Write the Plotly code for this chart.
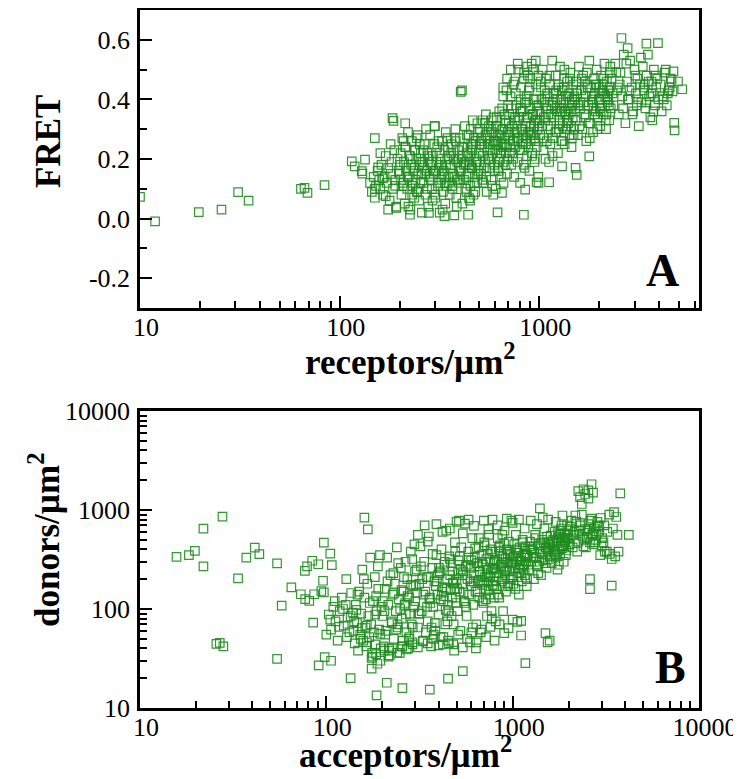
import plotly.graph_objects as go

# ---------------- Panel A: FRET vs receptors/um^2 ----------------
a_out_x = [10, 11.9, 19.7, 25.6, 31, 35, 66.7, 69, 84, 115,
           119, 134, 129, 130, 150, 156, 184, 186, 213, 300,
           410, 404, 618, 837, 2580, 2770, 3440, 3930, 4700, 5200,
           4740, 4760, 1780, 1540, 1520, 1300, 1120, 970, 850, 650,
           440, 375, 335, 280, 225, 192, 445, 4650, 4950, 64]
a_out_y = [0.073, -0.009, 0.022, 0.03, 0.089, 0.06, 0.103, 0.086, 0.112, 0.192,
           0.175, 0.198, 0.159, 0.151, 0.27, 0.172, 0.337, 0.328, 0.32, 0.31,
           0.43, 0.425, 0.021, 0.013, 0.606, 0.572, 0.587, 0.589, 0.494, 0.434,
           0.321, 0.296, 0.209, 0.147, 0.17, 0.175, 0.122, 0.122, 0.097, 0.086,
           0.013, 0.011, 0.008, 0.019, 0.013, 0.036, 0.069, 0.427, 0.46, 0.1]

a1_x = [142, 145, 148, 150, 152, 155, 158, 160, 162, 165,
        168, 170, 172, 175, 178, 180, 182, 185, 188, 190,
        192, 195, 198, 150, 160, 170, 180, 190, 175, 165]
a1_y = [0.12, 0.09, 0.14, 0.07, 0.11, 0.16, 0.13, 0.10, 0.18, 0.08,
        0.14, 0.21, 0.12, 0.17, 0.06, 0.15, 0.19, 0.10, 0.23, 0.13,
        0.04, 0.20, 0.16, 0.10, 0.22, 0.075, 0.25, 0.11, 0.03, 0.135]

a2_x = [200, 202, 204, 206, 208, 210, 212, 214, 216, 218,
        220, 222, 224, 226, 228, 230, 232, 234, 236, 238,
        240, 242, 244, 246, 248, 250, 252, 254, 256, 258,
        201, 207, 213, 219, 225, 231, 237, 243, 249, 255,
        203, 209, 215, 221, 227, 233, 239, 245, 251, 257]
a2_y = [0.15, 0.22, 0.08, 0.27, 0.12, 0.19, 0.05, 0.24, 0.17, 0.10,
        0.29, 0.14, 0.21, 0.03, 0.18, 0.26, 0.11, 0.16, 0.07, 0.23,
        0.13, 0.20, 0.09, 0.28, 0.15, 0.06, 0.25, 0.12, 0.19, 0.02,
        0.18, 0.11, 0.24, 0.14, 0.21, 0.08, 0.17, 0.27, 0.10, 0.22,
        0.13, 0.26, 0.16, 0.04, 0.20, 0.12, 0.23, 0.09, 0.18, 0.15]

a3_x = [260, 263, 266, 269, 272, 275, 278, 281, 284, 287,
        290, 293, 296, 299, 302, 305, 308, 311, 314, 317,
        320, 323, 326, 329, 332, 335, 338, 341, 344, 347,
        350, 353, 356, 359, 262, 268, 274, 280, 286, 292,
        298, 304, 310, 316, 322, 328, 334, 340, 346, 352,
        265, 277, 289, 301, 313, 325, 337, 349, 271, 295]
a3_y = [0.19, 0.12, 0.25, 0.08, 0.16, 0.22, 0.04, 0.14, 0.28, 0.18,
        0.10, 0.21, 0.15, 0.31, 0.07, 0.19, 0.24, 0.12, 0.17, 0.02,
        0.20, 0.13, 0.26, 0.09, 0.16, 0.23, 0.05, 0.18, 0.11, 0.27,
        0.14, 0.21, 0.08, 0.17, 0.23, 0.15, 0.10, 0.20, 0.13, 0.06,
        0.25, 0.16, 0.11, 0.22, 0.18, 0.03, 0.14, 0.29, 0.20, 0.12,
        0.17, 0.21, 0.19, 0.08, 0.26, 0.15, 0.12, 0.24, 0.30, 0.16]

a4_x = [360, 364, 368, 372, 376, 380, 384, 388, 392, 396,
        400, 404, 408, 412, 416, 420, 424, 428, 432, 436,
        440, 444, 448, 452, 456, 460, 464, 468, 472, 476,
        480, 484, 488, 492, 496, 362, 370, 378, 386, 394,
        402, 410, 418, 426, 434, 442, 450, 458, 466, 474,
        482, 490, 498, 366, 382, 398, 414, 430, 446, 462,
        478, 494, 374, 406, 438, 470, 390, 422, 454, 486]
a4_y = [0.18, 0.25, 0.10, 0.21, 0.14, 0.30, 0.07, 0.19, 0.23, 0.12,
        0.27, 0.16, 0.20, 0.05, 0.24, 0.13, 0.31, 0.18, 0.09, 0.22,
        0.15, 0.28, 0.19, 0.11, 0.25, 0.17, 0.33, 0.08, 0.21, 0.14,
        0.26, 0.19, 0.12, 0.29, 0.16, 0.22, 0.15, 0.27, 0.04, 0.20,
        0.13, 0.24, 0.18, 0.10, 0.28, 0.21, 0.06, 0.17, 0.25, 0.12,
        0.19, 0.32, 0.22, 0.11, 0.26, 0.16, 0.21, 0.14, 0.18, 0.23,
        0.09, 0.15, 0.20, 0.17, 0.24, 0.27, 0.13, 0.19, 0.30, 0.20]

a5_x = [500, 505, 510, 515, 520, 525, 530, 535, 540, 545,
        550, 555, 560, 565, 570, 575, 580, 585, 590, 595,
        600, 605, 610, 615, 620, 625, 630, 635, 640, 645,
        650, 655, 660, 665, 670, 675, 680, 685, 690, 695,
        502, 512, 522, 532, 542, 552, 562, 572, 582, 592,
        602, 612, 622, 632, 642, 652, 662, 672, 682, 692,
        508, 528, 548, 568, 588, 608, 628, 648, 668, 688,
        518, 538, 558, 578, 598, 618, 638, 658, 678, 698]
a5_y = [0.22, 0.30, 0.15, 0.26, 0.33, 0.12, 0.24, 0.19, 0.35, 0.09,
        0.27, 0.21, 0.31, 0.17, 0.25, 0.13, 0.29, 0.22, 0.34, 0.18,
        0.26, 0.10, 0.31, 0.23, 0.28, 0.16, 0.36, 0.20, 0.25, 0.14,
        0.30, 0.24, 0.41, 0.19, 0.27, 0.33, 0.22, 0.43, 0.15, 0.29,
        0.18, 0.27, 0.21, 0.32, 0.14, 0.25, 0.20, 0.30, 0.11, 0.26,
        0.23, 0.34, 0.17, 0.28, 0.22, 0.37, 0.12, 0.25, 0.32, 0.20,
        0.25, 0.17, 0.29, 0.23, 0.08, 0.31, 0.19, 0.27, 0.35, 0.24,
        0.13, 0.28, 0.20, 0.33, 0.16, 0.26, 0.22, 0.30, 0.18, 0.38]

a6_x = [700, 706, 712, 718, 724, 730, 736, 742, 748, 754,
        760, 766, 772, 778, 784, 790, 796, 802, 808, 814,
        820, 826, 832, 838, 844, 850, 856, 862, 868, 874,
        880, 886, 892, 898, 904, 910, 916, 922, 928, 934,
        940, 946, 952, 958, 964, 970, 976, 982, 988, 994,
        703, 715, 727, 739, 751, 763, 775, 787, 799, 811,
        823, 835, 847, 859, 871, 883, 895, 907, 919, 931,
        943, 955, 967, 979, 991, 709, 733, 757, 781, 805,
        829, 853, 877, 901, 925, 949, 973, 997, 745, 865]
a6_y = [0.28, 0.35, 0.22, 0.41, 0.18, 0.31, 0.26, 0.45, 0.14, 0.33,
        0.24, 0.38, 0.29, 0.19, 0.50, 0.27, 0.34, 0.12, 0.40, 0.30,
        0.23, 0.36, 0.28, 0.47, 0.17, 0.32, 0.25, 0.39, 0.21, 0.34,
        0.29, 0.43, 0.16, 0.37, 0.26, 0.31, 0.52, 0.22, 0.35, 0.28,
        0.40, 0.19, 0.33, 0.27, 0.45, 0.24, 0.36, 0.30, 0.14, 0.38,
        0.32, 0.25, 0.37, 0.20, 0.29, 0.42, 0.26, 0.33, 0.23, 0.36,
        0.30, 0.18, 0.39, 0.27, 0.34, 0.24, 0.44, 0.29, 0.21, 0.35,
        0.31, 0.26, 0.40, 0.33, 0.12, 0.30, 0.22, 0.34, 0.27, 0.37,
        0.25, 0.31, 0.48, 0.28, 0.35, 0.20, 0.38, 0.32, 0.26, 0.41]

a7_x = [1000, 1010, 1020, 1030, 1040, 1050, 1060, 1070, 1080, 1090,
        1100, 1110, 1120, 1130, 1140, 1150, 1160, 1170, 1180, 1190,
        1200, 1210, 1220, 1230, 1240, 1250, 1260, 1270, 1280, 1290,
        1300, 1310, 1320, 1330, 1340, 1350, 1360, 1370, 1380, 1390,
        1400, 1410, 1420, 1430, 1440, 1450, 1460, 1470, 1480, 1490,
        1005, 1025, 1045, 1065, 1085, 1105, 1125, 1145, 1165, 1185,
        1205, 1225, 1245, 1265, 1285, 1305, 1325, 1345, 1365, 1385,
        1405, 1425, 1445, 1465, 1485, 1015, 1055, 1095, 1135, 1175,
        1215, 1255, 1295, 1335, 1375, 1415, 1455, 1495, 1075, 1235]
a7_y = [0.36, 0.28, 0.44, 0.31, 0.50, 0.23, 0.39, 0.33, 0.47, 0.26,
        0.41, 0.35, 0.19, 0.45, 0.30, 0.38, 0.53, 0.27, 0.42, 0.34,
        0.37, 0.48, 0.29, 0.40, 0.22, 0.44, 0.33, 0.51, 0.36, 0.26,
        0.43, 0.31, 0.39, 0.47, 0.25, 0.35, 0.41, 0.30, 0.46, 0.37,
        0.32, 0.42, 0.28, 0.49, 0.36, 0.24, 0.40, 0.34, 0.45, 0.30,
        0.33, 0.40, 0.27, 0.43, 0.37, 0.31, 0.48, 0.35, 0.21, 0.42,
        0.29, 0.38, 0.45, 0.32, 0.40, 0.26, 0.44, 0.36, 0.30, 0.41,
        0.35, 0.47, 0.31, 0.38, 0.28, 0.46, 0.34, 0.42, 0.25, 0.39,
        0.43, 0.30, 0.37, 0.50, 0.33, 0.39, 0.27, 0.41, 0.20, 0.36]

a8_x = [1500, 1520, 1540, 1560, 1580, 1600, 1620, 1640, 1660, 1680,
        1700, 1720, 1740, 1760, 1780, 1800, 1820, 1840, 1860, 1880,
        1900, 1920, 1940, 1960, 1980, 2000, 2020, 2040, 2060, 2080,
        2100, 2120, 2140, 2160, 2180, 2200, 2220, 2240, 2260, 2280,
        1510, 1550, 1590, 1630, 1670, 1710, 1750, 1790, 1830, 1870,
        1910, 1950, 1990, 2030, 2070, 2110, 2150, 2190, 2230, 2270,
        1530, 1610, 1690, 1770, 1850, 1930, 2010, 2090, 2170, 2250,
        1570, 1730, 1890, 2050, 2210]
a8_y = [0.40, 0.33, 0.46, 0.28, 0.51, 0.37, 0.43, 0.30, 0.48, 0.35,
        0.41, 0.26, 0.45, 0.38, 0.53, 0.32, 0.44, 0.39, 0.29, 0.47,
        0.42, 0.36, 0.50, 0.34, 0.44, 0.40, 0.31, 0.48, 0.38, 0.45,
        0.35, 0.52, 0.41, 0.30, 0.46, 0.39, 0.43, 0.33, 0.49, 0.37,
        0.36, 0.42, 0.31, 0.47, 0.39, 0.34, 0.44, 0.27, 0.41, 0.37,
        0.45, 0.30, 0.40, 0.36, 0.43, 0.47, 0.33, 0.41, 0.38, 0.51,
        0.43, 0.39, 0.46, 0.32, 0.40, 0.45, 0.37, 0.42, 0.35, 0.44,
        0.38, 0.49, 0.35, 0.42, 0.40]

a9_x = [2300, 2350, 2400, 2450, 2500, 2550, 2600, 2650, 2700, 2750,
        2800, 2850, 2900, 2950, 3000, 3050, 3100, 3150, 3200, 3250,
        3300, 3350, 3400, 3450, 3500, 3550, 3600, 3650, 3700, 3750,
        3800, 3850, 3900, 3950, 2330, 2430, 2530, 2630, 2730, 2830,
        2930, 3030, 3130, 3230, 3330, 3430, 3530, 3630, 3730, 3830,
        2480, 2780, 3080, 3380, 3680]
a9_y = [0.47, 0.38, 0.52, 0.43, 0.35, 0.49, 0.41, 0.55, 0.32, 0.46,
        0.40, 0.53, 0.44, 0.36, 0.50, 0.42, 0.47, 0.31, 0.45, 0.39,
        0.51, 0.43, 0.37, 0.48, 0.55, 0.41, 0.34, 0.46, 0.42, 0.50,
        0.38, 0.44, 0.47, 0.40, 0.42, 0.49, 0.45, 0.37, 0.52, 0.43,
        0.35, 0.48, 0.40, 0.54, 0.44, 0.39, 0.46, 0.42, 0.36, 0.48,
        0.44, 0.40, 0.38, 0.45, 0.33]

a10_x = [4050, 4150, 4250, 4350, 4450, 4550, 4100, 4300, 4500, 4200, 4400, 4600]
a10_y = [0.45, 0.41, 0.49, 0.38, 0.43, 0.47, 0.36, 0.50, 0.44, 0.40, 0.42, 0.46]

a11_x = [660, 690, 720, 750, 780, 810, 840, 870, 900, 930, 960, 990]
a11_y = [0.44, 0.47, 0.50, 0.46, 0.52, 0.44, 0.49, 0.51, 0.47, 0.50, 0.53, 0.48]

# ---------------- Panel B: donors vs acceptors ----------------
b_out_x = [15.7, 18.3, 19.7, 21.9, 21.9, 27.7, 33.6, 37.2, 41.3, 43.7,
           54.4, 57.6, 64.9, 54.4, 25.7, 26.8, 28, 76.7, 78.8, 84,
           90.5, 73, 77, 81, 86, 94, 97, 96, 97, 105,
           107, 85, 91, 98, 106, 128, 135, 160, 167, 186,
           256, 359, 450, 540, 1170, 1400, 3780, 4200, 2250, 2400,
           2550, 2650, 2600, 2600, 3400, 1500, 1540, 1580, 1110, 1110]
b_out_y = [336, 350, 386, 649, 269, 857, 204, 331, 417, 358,
           289, 108, 165, 31.4, 44.5, 45.5, 42, 243, 269, 307,
           283, 141, 126, 121, 141, 152, 147, 193, 469, 363,
           277, 73, 27, 32.6, 30, 200, 20, 837, 638, 13.4,
           15.9, 15.3, 19.8, 23.6, 28.4, 1040, 1470, 560, 1550, 1620,
           1580, 1820, 200, 159, 172, 57, 46, 48, 54, 76]

b1_x = [100, 103, 106, 109, 112, 115, 118, 121, 124, 127,
        130, 133, 136, 139, 105, 111, 117, 123, 129, 135]
b1_y = [55, 88, 62, 105, 75, 48, 95, 130, 68, 110,
        82, 58, 145, 92, 78, 120, 66, 100, 52, 85]

b2_x = [140, 142, 144, 146, 148, 150, 152, 154, 156, 158,
        160, 162, 164, 166, 168, 170, 172, 174, 176, 178,
        180, 182, 184, 186, 188, 190, 192, 194, 196, 198,
        141, 147, 153, 159, 165, 171, 177, 183, 189, 195,
        145, 155, 165, 175, 185]
b2_y = [60, 45, 110, 72, 38, 150, 55, 90, 250, 48,
        130, 65, 42, 180, 85, 52, 330, 70, 36, 120,
        58, 210, 44, 95, 28, 160, 62, 350, 40, 105,
        75, 140, 50, 200, 68, 115, 33, 88, 270, 56,
        98, 64, 46, 25, 135]

b3_x = [200, 203, 206, 209, 212, 215, 218, 221, 224, 227,
        230, 233, 236, 239, 242, 245, 248, 251, 254, 257,
        260, 263, 266, 269, 272, 275, 278, 281, 284, 287,
        290, 293, 296, 299, 201, 207, 213, 219, 225, 231,
        237, 243, 249, 255, 261, 267, 273, 279, 285, 291,
        297, 205, 217, 229, 241, 253, 265, 277, 289, 211]
b3_y = [85, 42, 160, 60, 330, 110, 38, 220, 72, 140,
        50, 180, 95, 420, 65, 125, 36, 260, 80, 48,
        150, 110, 300, 58, 200, 40, 130, 90, 380, 70,
        46, 170, 105, 240, 120, 55, 190, 34, 75, 145,
        62, 290, 100, 42, 210, 88, 135, 52, 175, 66,
        450, 95, 40, 230, 70, 155, 115, 50, 320, 18]

b4_x = [300, 305, 310, 315, 320, 325, 330, 335, 340, 345,
        350, 355, 360, 365, 370, 375, 380, 385, 390, 395,
        400, 405, 410, 415, 420, 425, 430, 435, 440, 445,
        450, 455, 460, 465, 470, 475, 480, 485, 490, 495,
        302, 312, 322, 332, 342, 352, 362, 372, 382, 392,
        402, 412, 422, 432, 442, 452, 462, 472, 482, 492,
        307, 327, 347, 367, 387, 407, 427, 447, 467, 487,
        317, 337, 357, 377, 397, 417, 437, 457, 477, 497]
b4_y = [120, 250, 65, 180, 430, 95, 48, 300, 150, 210,
        75, 540, 130, 42, 260, 105, 190, 60, 350, 140,
        88, 230, 52, 400, 165, 120, 280, 70, 620, 200,
        110, 45, 320, 155, 85, 240, 180, 38, 470, 130,
        175, 90, 270, 140, 58, 210, 115, 360, 72, 190,
        260, 125, 44, 300, 160, 95, 220, 130, 70, 380,
        145, 200, 105, 65, 170, 240, 135, 75, 290, 160,
        90, 700, 125, 55, 220, 150, 98, 340, 185, 115]

b5_x = [500, 506, 512, 518, 524, 530, 536, 542, 548, 554,
        560, 566, 572, 578, 584, 590, 596, 602, 608, 614,
        620, 626, 632, 638, 644, 650, 656, 662, 668, 674,
        680, 686, 692, 698, 704, 710, 716, 722, 728, 734,
        740, 746, 752, 758, 764, 770, 776, 782, 788, 794,
        503, 521, 539, 557, 575, 593, 611, 629, 647, 665,
        683, 701, 719, 737, 755, 773, 791, 509, 545, 581,
        617, 653, 689, 725, 761, 797, 527, 563, 599, 635,
        671, 707, 743, 779, 515]
b5_y = [200, 95, 310, 150, 60, 420, 180, 240, 120, 730,
        270, 85, 200, 380, 140, 46, 260, 170, 520, 110,
        220, 330, 150, 70, 290, 190, 420, 130, 240, 58,
        350, 175, 280, 115, 470, 210, 160, 320, 85, 250,
        190, 560, 140, 300, 230, 95, 380, 175, 260, 130,
        160, 340, 220, 115, 280, 190, 65, 410, 150, 240,
        300, 185, 125, 360, 210, 80, 290, 230, 145, 330,
        190, 270, 120, 220, 400, 170, 250, 105, 310, 40,
        195, 440, 155, 260, 780]

b6_x = [800, 808, 816, 824, 832, 840, 848, 856, 864, 872,
        880, 888, 896, 904, 912, 920, 928, 936, 944, 952,
        960, 968, 976, 984, 992, 1000, 1010, 1020, 1030, 1040,
        1050, 1060, 1070, 1080, 1090, 1100, 1110, 1120, 1130, 1140,
        1150, 1160, 1170, 1180, 1190, 804, 820, 836, 852, 868,
        884, 900, 916, 932, 948, 964, 980, 996, 1015, 1035,
        1055, 1075, 1095, 1115, 1135, 1155, 1175, 1195, 812, 844,
        876, 908, 940, 972, 1005, 1045, 1085, 1125, 1165, 812]
b6_y = [250, 380, 160, 300, 520, 210, 130, 440, 280, 190,
        340, 95, 260, 620, 220, 150, 400, 300, 170, 480,
        240, 350, 200, 780, 280, 330, 180, 450, 260, 560,
        300, 210, 370, 140, 420, 280, 330, 190, 500, 250,
        360, 220, 430, 300, 170, 310, 230, 140, 390, 270,
        200, 460, 320, 250, 180, 380, 290, 210, 340, 160,
        400, 260, 310, 230, 470, 280, 350, 200, 190, 420,
        290, 240, 360, 170, 300, 390, 230, 280, 330, 75]

b7_x = [1200, 1220, 1240, 1260, 1280, 1300, 1320, 1340, 1360, 1380,
        1400, 1420, 1440, 1460, 1480, 1500, 1520, 1540, 1560, 1580,
        1600, 1620, 1640, 1660, 1680, 1700, 1720, 1740, 1760, 1780,
        1800, 1820, 1840, 1860, 1880, 1900, 1920, 1940, 1960, 1980,
        1210, 1250, 1290, 1330, 1370, 1410, 1450, 1490, 1530, 1570,
        1610, 1650, 1690, 1730, 1770, 1810, 1850, 1890, 1930, 1970,
        1230, 1310, 1390, 1470, 1550, 1630, 1710, 1790, 1870, 1950,
        1270, 1430, 1590, 1750, 1910, 1350, 1510, 1670, 1830, 1990]
b7_y = [350, 250, 480, 300, 410, 200, 560, 330, 270, 440,
        380, 220, 500, 310, 650, 420, 260, 380, 470, 340,
        550, 290, 430, 380, 600, 330, 480, 250, 520, 400,
        360, 650, 440, 520, 300, 580, 470, 390, 700, 450,
        280, 400, 330, 520, 230, 460, 360, 290, 540, 420,
        320, 500, 380, 460, 280, 620, 410, 500, 350, 560,
        430, 370, 300, 470, 400, 480, 350, 560, 430, 520,
        390, 330, 450, 580, 490, 280, 420, 360, 700, 620]

b8_x = [2000, 2050, 2100, 2150, 2200, 2250, 2300, 2350, 2400, 2450,
        2500, 2550, 2600, 2650, 2700, 2750, 2800, 2850, 2900, 2950,
        3000, 3100, 3200, 3300, 3400, 2020, 2120, 2220, 2320, 2420,
        2520, 2620, 2720, 2820, 2920, 3020, 3120, 3220, 3320, 2070,
        2270, 2470, 2670, 2870, 3070, 2170, 2370, 2570, 2770, 2970,
        3500, 3600, 3700, 3450, 3550, 3650, 2300, 2450, 2550, 2700,
        2350]
b8_y = [520, 680, 420, 600, 760, 480, 560, 900, 430, 640,
        530, 720, 470, 820, 580, 650, 500, 760, 600, 350,
        440, 700, 380, 900, 320, 450, 560, 380, 700, 500,
        620, 780, 450, 560, 680, 520, 380, 600, 360, 780,
        620, 420, 560, 700, 470, 880, 540, 650, 470, 830,
        950, 850, 380, 650, 340, 560, 1350, 1450, 1300, 1500,
        1150]

b9_x = [175, 185, 195, 205, 215, 225, 240, 255, 270, 290,
        310, 330, 350, 375, 400, 425, 450, 480, 510, 540,
        570, 600, 640, 680, 720, 760, 800, 850, 900, 950,
        1000, 1060]
b9_y = [32, 35, 30, 38, 33, 40, 36, 42, 39, 44,
        41, 47, 45, 50, 43, 52, 48, 44, 55, 41,
        50, 58, 46, 62, 52, 66, 48, 70, 57, 64,
        78, 74]

b10_x = [310, 350, 390, 420, 460, 500, 540, 580, 620, 660,
         700, 740, 780, 830, 880, 930, 1000, 1080, 1160, 1250,
         1350, 1450, 1550, 1700, 1850]
b10_y = [560, 480, 720, 600, 650, 760, 580, 800, 690, 520,
         780, 640, 800, 700, 560, 820, 740, 800, 650, 780,
         720, 840, 800, 760, 880]

# tick labels
a_xticks = [10, 100, 1000]
a_yticks = [-0.2, 0.0, 0.2, 0.4, 0.6]
a_yticktext = ["-0.2", "0.0", "0.2", "0.4", "0.6"]
b_ticks = [10, 100, 1000, 10000]


def join(pairs):
    xs, ys = [], []
    for px, py in pairs:
        n = min(len(px), len(py))
        xs += px[:n]
        ys += py[:n]
    return xs, ys


receptors, fret = join([(a_out_x, a_out_y), (a1_x, a1_y), (a2_x, a2_y), (a3_x, a3_y),
                        (a4_x, a4_y), (a5_x, a5_y), (a6_x, a6_y), (a7_x, a7_y),
                        (a8_x, a8_y), (a9_x, a9_y), (a10_x, a10_y), (a11_x, a11_y)])
acceptors, donors = join([(b_out_x, b_out_y), (b1_x, b1_y), (b2_x, b2_y), (b3_x, b3_y),
                          (b4_x, b4_y), (b5_x, b5_y), (b6_x, b6_y), (b7_x, b7_y),
                          (b8_x, b8_y), (b9_x, b9_y), (b10_x, b10_y)])

# page is 741x779; the page body has an 8 px margin, so the figure is 8 px smaller
OFF = 8
W, H = 741 - OFF, 779 - OFF


def fx(px):
    return (px - OFF) / W


def fy(py):
    return 1 - (py - OFF) / H


GREEN = "rgba(30,140,30,0.9)"
FONT = "Liberation Serif, Times New Roman, Times, DejaVu Serif, serif"
marker = dict(symbol="square-open", size=8.5, color=GREEN, line=dict(width=1.2, color=GREEN))

fig = go.Figure()
fig.add_trace(go.Scatter(x=receptors, y=fret, mode="markers", marker=marker,
                         xaxis="x", yaxis="y", showlegend=False))
fig.add_trace(go.Scatter(x=acceptors, y=donors, mode="markers", marker=marker,
                         xaxis="x2", yaxis="y2", showlegend=False))


def logminor(lo, hi):
    vals = []
    d = lo
    while d < hi:
        for k in range(2, 10):
            vals.append(k * d)
        d *= 10
    return vals


axis_common = dict(showline=True, linewidth=2.5, linecolor="black", mirror=True,
                   showgrid=False, zeroline=False, ticks="inside", ticklen=12,
                   tickwidth=2, tickcolor="black",
                   tickfont=dict(family=FONT, size=26, color="black"))
minor_common = dict(ticks="inside", ticklen=7, tickwidth=2, tickcolor="black")

xdom = [fx(140), fx(699)]
fig.update_layout(
    width=W, height=H,
    margin=dict(l=0, r=0, t=0, b=0, autoexpand=False),
    paper_bgcolor="white", plot_bgcolor="white",
    font=dict(family=FONT, color="black"),
    xaxis=dict(domain=xdom, anchor="y", type="log", range=[1, 3.8],
               tickvals=a_xticks, ticktext=[str(v) for v in a_xticks],
               minor=dict(tickvals=[v for v in logminor(10, 10000) if v < 6300], **minor_common),
               ticklabelstandoff=-6, ticklabelshift=6, **axis_common),
    yaxis=dict(domain=[fy(308), fy(10)], anchor="x", range=[-0.3, 0.7],
               tickvals=a_yticks, ticktext=a_yticktext,
               minor=dict(tickvals=[-0.1, 0.1, 0.3, 0.5], **minor_common),
               ticklabelstandoff=2, **axis_common),
    xaxis2=dict(domain=xdom, anchor="y2", type="log", range=[1, 4],
                tickvals=b_ticks, ticktext=[str(v) for v in b_ticks],
                minor=dict(tickvals=logminor(10, 10000), **minor_common),
                ticklabelstandoff=-6, ticklabelshift=6, **axis_common),
    yaxis2=dict(domain=[fy(708), fy(411)], anchor="x2", type="log", range=[1, 4],
                tickvals=b_ticks, ticktext=[str(v) for v in b_ticks],
                minor=dict(tickvals=logminor(10, 10000), **minor_common),
                ticklabelstandoff=2, **axis_common),
)

title_font = dict(family=FONT, size=35, color="black")
ann = [
    dict(text="<b>FRET</b>", x=fx(48), y=fy(142), textangle=-90),
    dict(text="<b>receptors/µm<sup>2</sup></b>", x=fx(410), y=fy(360)),
    dict(text="<b>donors/µm<sup>2</sup></b>", x=fx(44), y=fy(540), textangle=-90),
    dict(text="<b>acceptors/µm<sup>2</sup></b>", x=fx(405), y=fy(752)),
]
for a in ann:
    fig.add_annotation(xref="paper", yref="paper", showarrow=False,
                       xanchor="center", yanchor="middle", font=title_font, **a)
for lbl, cx, cy in [("A", 662, 270), ("B", 670, 667)]:
    fig.add_annotation(text=f"<b>{lbl}</b>", xref="paper", yref="paper",
                       x=fx(cx), y=fy(cy), showarrow=False,
                       xanchor="center", yanchor="middle",
                       font=dict(family=FONT, size=46, color="black"))

fig.write_html("out.html")
